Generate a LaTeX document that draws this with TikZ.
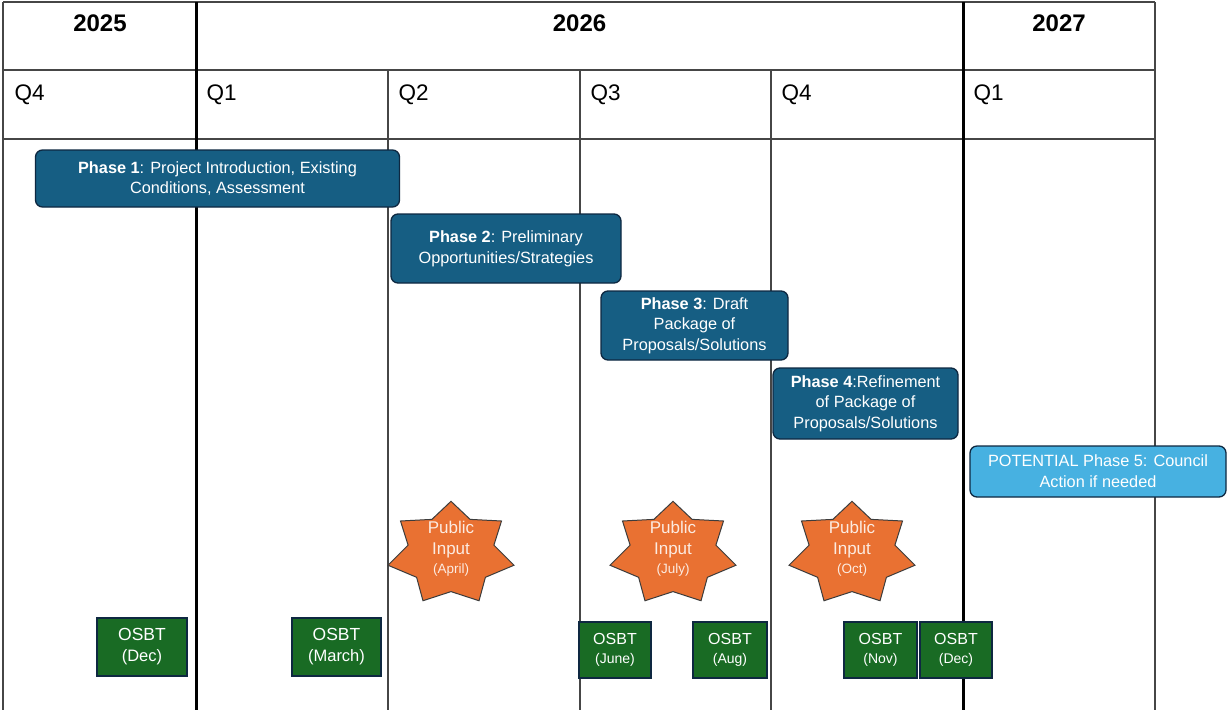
\documentclass[tikz,border=0pt]{standalone}
\usepackage{fontspec}
\setmainfont{Liberation Sans}
\usetikzlibrary{calc}
\definecolor{phasecol}{RGB}{22,94,131}
\definecolor{phaseline}{RGB}{14,40,65}
\definecolor{pfivecol}{RGB}{71,177,225}
\definecolor{starcol}{RGB}{233,113,50}
\definecolor{starline}{RGB}{60,60,60}
\definecolor{osbtcol}{RGB}{25,107,36}
\definecolor{gridcol}{RGB}{70,70,70}
\definecolor{startxt}{RGB}{252,235,225}
\newcommand{\pistar}[1]{%
  \begin{scope}[shift={#1}]
    \filldraw[starsty] (270:64.6 and 52.3) \foreach \k in {0,...,6}{ -- ({270+\k*360/7+180/7}:44 and 38) -- ({270+(\k+1)*360/7}:64.6 and 52.3) } -- cycle;
  \end{scope}}
\begin{document}
\begin{tikzpicture}[x=1pt,y=-1pt,
  thinline/.style={draw=gridcol, line width=1.3pt},
  thickline/.style={draw=black, line width=3pt},
  yeartxt/.style={font=\fontsize{24}{26}\selectfont\bfseries, inner sep=0pt, anchor=base},
  qtxt/.style={font=\fontsize{22.5}{24}\selectfont, inner sep=0pt, anchor=base west},
  phase/.style={draw=phaseline, line width=1.3pt, fill=phasecol, rounded corners=7pt, text=white, align=center, font=\fontsize{16.3}{20.7}\selectfont, inner sep=0pt},
  pfive/.style={phase, fill=pfivecol},
  starsty/.style={fill=starcol, draw=starline, line width=1pt, line join=miter},
  startext/.style={text=startxt, align=center, font=\fontsize{17}{21}\selectfont, inner sep=0pt},
  osbt/.style={draw=phaseline, line width=1.5pt, fill=osbtcol, text=white, align=center, inner sep=0pt, font=\fontsize{17.5}{22}\selectfont}
]
\fill[white] (0,0) rectangle (1228,710);
\useasboundingbox (0,0) rectangle (1228,710);
% grid
\draw[thinline] (3,2) -- (1155,2);
\draw[thinline] (3,70) -- (1155,70);
\draw[thinline] (3,139) -- (1155,139);
\draw[thinline] (3,2) -- (3,710);
\draw[thinline] (1155,2) -- (1155,710);
\draw[thinline] (388,70) -- (388,710);
\draw[thinline] (580,70) -- (580,710);
\draw[thinline] (771,70) -- (771,710);
\draw[thickline] (196,2) -- (196,710);
\draw[thickline] (963,2) -- (963,710);
% headers
\node[yeartxt] (y25) at (100,31.5) {2025};
\node[yeartxt] (y26) at (579.5,31.5) {2026};
\node[yeartxt] (y27) at (1059,31.5) {2027};
\node[qtxt] (q4a) at (14.5,100) {Q4};
\node[qtxt] (q1a) at (206.5,100) {Q1};
\node[qtxt] (q2a) at (398.5,100) {Q2};
\node[qtxt] (q3a) at (590.5,100) {Q3};
\node[qtxt] (q4b) at (781.5,100) {Q4};
\node[qtxt] (q1b) at (973.5,100) {Q1};
% phases
\node[phase, minimum width=364, minimum height=57] (p1) at (217.5,178.5) {\textbf{Phase 1}: Project Introduction, Existing\\Conditions, Assessment};
\node[phase, minimum width=230, minimum height=69] (p2) at (506,248.5) {\textbf{Phase 2}: Preliminary\\Opportunities/Strategies};
\node[phase, minimum width=187, minimum height=69] (p3) at (694.5,325.5) {\textbf{Phase 3}: Draft\\Package of\\Proposals/Solutions};
\node[phase, minimum width=185, minimum height=71] (p4) at (865.5,403.5) {\textbf{Phase 4}:Refinement\\of Package of\\Proposals/Solutions};
\node[pfive, minimum width=256, minimum height=51] (p5) at (1098,471.5) {POTENTIAL Phase 5: Council\\Action if needed};
% public input stars
\pistar{(451,553.6)}
\pistar{(673,553.6)}
\pistar{(852,553.6)}
\node[startext] (sa) at (451,549) {Public\\Input\\[-2pt]{\fontsize{13.5}{15}\selectfont(April)}};
\node[startext] (sb) at (673,549) {Public\\Input\\[-2pt]{\fontsize{13.5}{15}\selectfont(July)}};
\node[startext] (sc) at (852,549) {Public\\Input\\[-2pt]{\fontsize{13.5}{15}\selectfont(Oct)}};
% OSBT
\node[osbt, minimum width=90, minimum height=58] (o1) at (142,647) {OSBT\\[-1pt]{\fontsize{16.5}{18}\selectfont(Dec)}};
\node[osbt, minimum width=89, minimum height=58] (o2) at (336.5,647) {OSBT\\[-1pt]{\fontsize{16.5}{18}\selectfont(March)}};
\node[osbt, minimum width=72, minimum height=56, font=\fontsize{16}{20}\selectfont] (o3) at (615,650) {OSBT\\[-1pt]{\fontsize{14}{16}\selectfont(June)}};
\node[osbt, minimum width=74, minimum height=56, font=\fontsize{16}{20}\selectfont] (o4) at (730,650) {OSBT\\[-1pt]{\fontsize{14}{16}\selectfont(Aug)}};
\node[osbt, minimum width=73, minimum height=56, font=\fontsize{16}{20}\selectfont] (o5) at (880.5,650) {OSBT\\[-1pt]{\fontsize{14}{16}\selectfont(Nov)}};
\node[osbt, minimum width=72, minimum height=56, font=\fontsize{16}{20}\selectfont] (o6) at (956,650) {OSBT\\[-1pt]{\fontsize{14}{16}\selectfont(Dec)}};
\end{tikzpicture}
\end{document}
